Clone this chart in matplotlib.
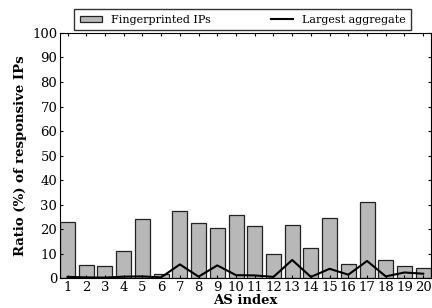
import matplotlib
matplotlib.use("Agg")
from matplotlib import pyplot as plt
import numpy as np

plt.rcParams['font.family'] = ['DejaVu Serif']

as_index = list(range(1, 21))
fingerprinted = [22.9, 5.2, 4.8, 11.2, 24.1, 1.6, 27.2, 22.6, 20.3, 25.6,
                 21.2, 9.7, 21.6, 12.1, 24.5, 5.8, 30.9, 7.2, 4.8, 4.1]
largest = [0.5, 0.3, 0.2, 0.6, 0.7, 0.3, 5.6, 0.6, 5.2, 1.2,
           1.1, 0.5, 7.4, 0.5, 3.8, 1.4, 7.0, 0.7, 2.3, 1.8]

fig = plt.figure(figsize=(4.32, 3.08), dpi=100)
ax = fig.add_axes([0.139, 0.097, 0.858, 0.796])

bars = ax.bar(as_index, fingerprinted, width=0.8, color='#b8b8b8', edgecolor='#222222',
              linewidth=0.9, label='Fingerprinted IPs')
line, = ax.plot(as_index, largest, color='black', linewidth=1.5, label='Largest aggregate')

ax.set_xlim(0.6, 20.4)
ax.set_ylim(0, 100)
ax.set_xticks(as_index)
ax.set_yticks(range(0, 101, 10))
ax.tick_params(direction='in', top=True, right=True, labelsize=9.5, length=2.5, pad=2)
ax.set_xlabel('AS index', fontsize=9.5, fontweight='bold', labelpad=0)
ax.set_ylabel('Ratio (%) of responsive IPs', fontsize=9.5, fontweight='bold', labelpad=4)

leg = ax.legend([bars, line], ['Fingerprinted IPs', 'Largest aggregate'],
                loc='lower center', bbox_to_anchor=(0.493, 1.0), ncol=2,
                fontsize=8, fancybox=False, edgecolor='black',
                borderaxespad=0.25, columnspacing=5.4, handlelength=2,
                borderpad=0.5, handleheight=0.5)
leg.get_frame().set_linewidth(1.0)

fig.savefig('out.png', dpi=100)
